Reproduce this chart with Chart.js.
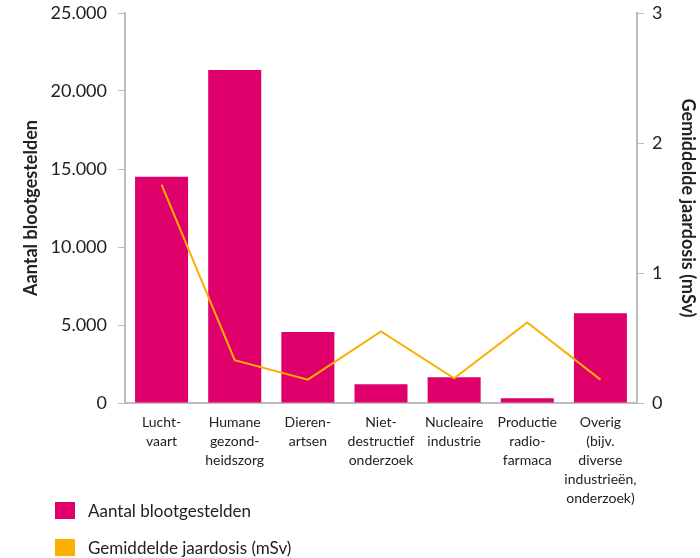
<!DOCTYPE html>
<html>
<head>
<meta charset="utf-8">
<script src="https://cdn.jsdelivr.net/npm/chart.js@4/dist/chart.umd.min.js"></script>
<style>
  html, body { margin: 0; padding: 0; background: #fff; }
  #wrap { position: relative; width: 700px; height: 558px; }
  #c { position: absolute; left: 0; top: 0; }
  #legend { position: absolute; left: 55px; top: 501px; font-family: Lato, "Open Sans", sans-serif; font-size: 17px; color: #222; }
  .li { display: flex; align-items: center; height: 18px; margin-bottom: 19px; }
  .sw { width: 20px; height: 17px; margin-right: 13px; }
</style>
</head>
<body>
<div id="wrap">
  <canvas id="c" width="700" height="558"></canvas>
  <div id="legend"></div>
</div>
<script>
const categories = [
  ["Lucht-", "vaart"],
  ["Humane", "gezond-", "heidszorg"],
  ["Dieren-", "artsen"],
  ["Niet-", "destructief", "onderzoek"],
  ["Nucleaire", "industrie"],
  ["Productie", "radio-", "farmaca"],
  ["Overig", "(bijv.", "diverse", "industrieën,", "onderzoek)"]
];
const aantalBlootgestelden = [14500, 21350, 4550, 1200, 1650, 300, 5750];
const gemiddeldeJaardosis = [1.68, 0.33, 0.18, 0.55, 0.19, 0.62, 0.18];
const seriesNames = ["Aantal blootgestelden", "Gemiddelde jaardosis (mSv)"];
const leftAxisTitle = "Aantal blootgestelden";
const rightAxisTitle = "Gemiddelde jaardosis (mSv)";

const MAGENTA = "#e0006b";
const ORANGE = "#f9b000";
const AXIS = "#bdbdbd";
const TXT = "#222";
const FONT = "Lato, 'Open Sans', sans-serif";

const chart = new Chart(document.getElementById("c"), {
  data: {
    labels: categories,
    datasets: [
      {
        type: "line",
        label: seriesNames[1],
        data: gemiddeldeJaardosis,
        yAxisID: "y1",
        borderColor: ORANGE,
        backgroundColor: ORANGE,
        borderWidth: 2,
        pointRadius: 0,
        tension: 0,
        order: 0
      },
      {
        type: "bar",
        label: seriesNames[0],
        data: aantalBlootgestelden,
        yAxisID: "y",
        backgroundColor: MAGENTA,
        barPercentage: 0.725,
        categoryPercentage: 1,
        order: 1
      }
    ]
  },
  options: {
    responsive: false,
    animation: false,
    devicePixelRatio: 1,
    layout: { padding: { top: 13, left: 0, right: 0, bottom: 0 } },
    plugins: { legend: { display: false }, tooltip: { enabled: false } },
    scales: {
      x: {
        grid: { display: true, drawOnChartArea: false, drawTicks: false, color: AXIS },
        border: { display: true, color: AXIS, width: 2 },
        ticks: { color: TXT, font: { family: FONT, size: 14, lineHeight: 1.35 }, padding: 10, maxRotation: 0, autoSkip: false },
        afterFit: s => { s.height = 155; }
      },
      y: {
        position: "left",
        min: 0, max: 25000,
        ticks: {
          stepSize: 5000, color: TXT, padding: 11,
          font: { family: FONT, size: 18 },
          callback: v => v.toLocaleString("nl-NL")
        },
        grid: { display: true, drawOnChartArea: false, drawTicks: true, tickLength: 7, color: AXIS },
        border: { display: true, color: AXIS, width: 2 },
        title: { display: true, text: leftAxisTitle, color: TXT, font: { family: FONT, size: 18, weight: "bold" }, padding: { top: 20, bottom: 0 } },
        afterFit: s => { s.width = 125; s.paddingTop = 0; s.paddingBottom = 0; }
      },
      y1: {
        position: "right",
        min: 0, max: 3,
        ticks: { stepSize: 1, color: TXT, padding: 8, font: { family: FONT, size: 18 } },
        grid: { display: true, drawOnChartArea: false, drawTicks: true, tickLength: 7, color: AXIS },
        border: { display: true, color: AXIS, width: 2 },
        title: { display: true, text: rightAxisTitle, color: TXT, font: { family: FONT, size: 18, weight: "bold" }, padding: { top: 1, bottom: 0 } },
        afterFit: s => { s.width = 63; s.paddingTop = 0; s.paddingBottom = 0; }
      }
    }
  }
});

// HTML legend built from the chart's datasets (bar first, then line)
const legend = document.getElementById("legend");
[1, 0].forEach(i => {
  const ds = chart.data.datasets[i];
  const row = document.createElement("div");
  row.className = "li";
  const sw = document.createElement("span");
  sw.className = "sw";
  sw.style.background = ds.backgroundColor;
  const t = document.createElement("span");
  t.textContent = ds.label;
  row.appendChild(sw); row.appendChild(t);
  legend.appendChild(row);
});
</script>
</body>
</html>
